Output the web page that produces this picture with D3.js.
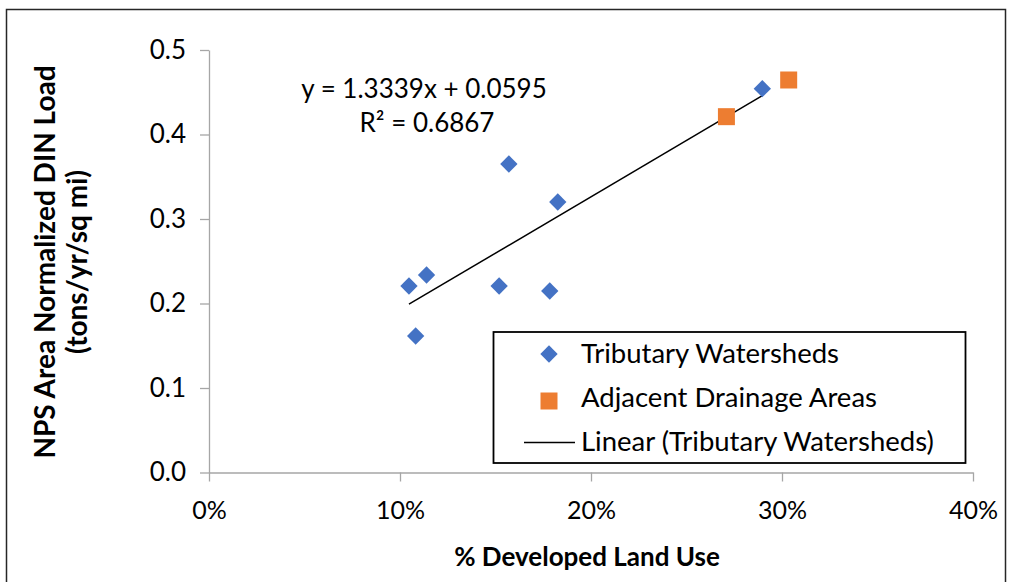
<!DOCTYPE html>
<html>
<head>
<meta charset="utf-8">
<script src="https://cdn.jsdelivr.net/npm/d3@7"></script>
<style>
  body { margin: 0; background: #fff; }
  svg { display: block; font-family: Lato, "Open Sans", sans-serif; }
</style>
</head>
<body>
<svg id="chart" width="1009" height="582"></svg>
<script>
// data
var tribX = [0.1047, 0.1139, 0.1519, 0.1082, 0.1570, 0.1826, 0.1784, 0.2897];
var tribY = [0.2207, 0.2337, 0.2207, 0.1615, 0.3651, 0.3201, 0.2148, 0.4542];
var adjX = [0.2709, 0.3035];
var adjY = [0.4211, 0.4645];
var xTicks = [0, 0.1, 0.2, 0.3, 0.4];
var yTicks = [0, 0.1, 0.2, 0.3, 0.4, 0.5];
var trendSlope = 1.3339;
var trendIntercept = 0.0595;
var trendR2 = 0.6867;
var legendNames = ["Tributary Watersheds", "Adjacent Drainage Areas", "Linear (Tributary Watersheds)"];

var blue = "#4472c4", orange = "#ed7d31", axisGrey = "#a6a6a6";

var svg = d3.select("#chart");

// outer chart border
svg.append("rect")
  .attr("x", 6.5).attr("y", 9.5)
  .attr("width", 999).attr("height", 620)
  .attr("fill", "#fff")
  .attr("stroke", "#262626").attr("stroke-width", 1.5);

var x = d3.scaleLinear().domain([0, 0.4]).range([209, 973]);
var y = d3.scaleLinear().domain([0, 0.5]).range([472.5, 50]);

// axes
var xAxis = svg.append("g")
  .attr("transform", "translate(0," + y(0) + ")")
  .call(d3.axisBottom(x).tickValues(xTicks).tickFormat(d3.format(".0%")).tickSize(9).tickSizeOuter(0).tickPadding(20));
var yAxis = svg.append("g")
  .attr("transform", "translate(" + x(0) + ",0)")
  .call(d3.axisLeft(y).tickValues(yTicks).tickFormat(d3.format(".1f")).tickSize(9).tickSizeOuter(0).tickPadding(14));

[xAxis, yAxis].forEach(function(g) {
  g.select(".domain").attr("stroke", axisGrey).attr("stroke-width", 1.3);
  g.selectAll(".tick line").attr("stroke", axisGrey).attr("stroke-width", 1.3);
  g.selectAll(".tick text").attr("fill", "#000").attr("font-size", 25)
    .attr("font-family", "Lato, sans-serif");
});
yAxis.selectAll(".tick text").attr("font-size", 26);

// trendline over the range of the tributary points
var xMin = d3.min(tribX), xMax = d3.max(tribX);
svg.append("line")
  .attr("x1", x(xMin)).attr("y1", y(trendSlope * xMin + trendIntercept))
  .attr("x2", x(xMax)).attr("y2", y(trendSlope * xMax + trendIntercept))
  .attr("stroke", "#000").attr("stroke-width", 1.5);

var diamond = d3.symbol().type(d3.symbolSquare).size(150);
var square = d3.symbol().type(d3.symbolSquare).size(289);

// adjacent drainage areas (squares)
svg.append("g")
  .selectAll("path")
  .data(adjX)
  .enter()
  .append("path")
    .attr("d", square)
    .attr("transform", function(d, i){ return "translate(" + x(d) + "," + y(adjY[i]) + ")" })
    .attr("fill", orange);

// tributary watersheds (diamonds)
svg.append("g")
  .selectAll("path")
  .data(tribX)
  .enter()
  .append("path")
    .attr("d", diamond)
    .attr("transform", function(d, i){ return "translate(" + x(d) + "," + y(tribY[i]) + ") rotate(45)" })
    .attr("fill", blue);

// trendline equation
svg.append("text")
  .attr("x", 424).attr("y", 98)
  .attr("text-anchor", "middle").attr("font-size", 26)
  .text("y = " + trendSlope.toFixed(4) + "x + " + trendIntercept.toFixed(4));
svg.append("text")
  .attr("x", 427).attr("y", 132)
  .attr("text-anchor", "middle").attr("font-size", 26)
  .text("R\u00b2 = " + trendR2.toFixed(4));

// legend
var legend = svg.append("g");
legend.append("rect")
  .attr("x", 493.5).attr("y", 332)
  .attr("width", 472).attr("height", 131)
  .attr("fill", "#fff").attr("stroke", "#000").attr("stroke-width", 1.8);

legend.append("path")
  .attr("d", diamond)
  .attr("transform", "translate(549,354) rotate(45)")
  .attr("fill", blue);
legend.append("path")
  .attr("d", square)
  .attr("transform", "translate(549,401)")
  .attr("fill", orange);
legend.append("line")
  .attr("x1", 524).attr("x2", 575)
  .attr("y1", 442.5).attr("y2", 442.5)
  .attr("stroke", "#000").attr("stroke-width", 1.5);

legend.selectAll("text")
  .data(legendNames)
  .enter()
  .append("text")
    .attr("x", 581)
    .attr("y", function(d, i){ return 363 + i * 44 })
    .attr("font-size", 27.5)
    .text(function(d){ return d });

// axis titles
svg.append("text")
  .attr("x", 587).attr("y", 566)
  .attr("text-anchor", "middle")
  .attr("font-size", 26).attr("font-weight", "bold")
  .text("% Developed Land Use");

var yTitle = svg.append("text")
  .attr("transform", "translate(0,262) rotate(-90)")
  .attr("text-anchor", "middle")
  .attr("font-size", 28).attr("font-weight", "bold");
yTitle.append("tspan").attr("x", 0).attr("y", 55).text("NPS Area Normalized DIN Load");
yTitle.append("tspan").attr("x", 0).attr("y", 87).text("(tons/yr/sq mi)");
</script>
</body>
</html>
